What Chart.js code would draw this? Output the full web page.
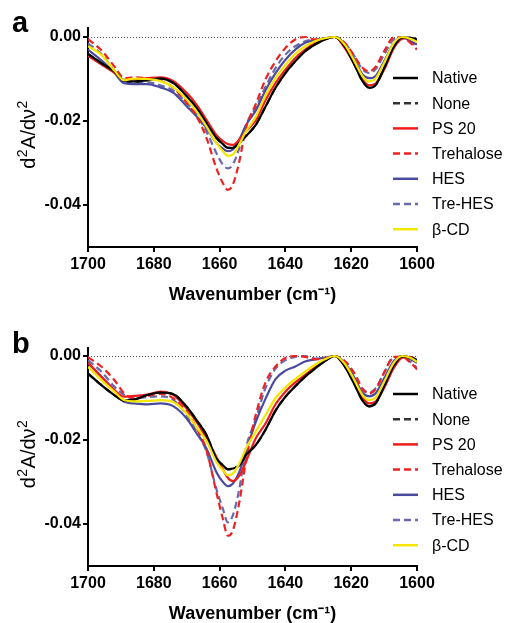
<!DOCTYPE html>
<html><head><meta charset="utf-8">
<script src="https://cdn.jsdelivr.net/npm/chart.js@4.4.0/dist/chart.umd.min.js"></script>
<style>
html,body{margin:0;padding:0;background:#fff;overflow:hidden;width:509px;height:623px;}
.panel{position:absolute;left:0;width:509px;}
#pa{top:0;height:312px;}
#pb{top:311px;height:320px;}
canvas{display:block;}
</style></head><body>
<div class="panel" id="pa"><canvas id="ca" width="509" height="312"></canvas></div>
<div class="panel" id="pb"><canvas id="cb" width="509" height="320"></canvas></div>
<script>
// ---------- data ----------
const wavenumbers = [1700,1696,1692,1689,1686,1682,1678,1674,1670,1667,1664,1661,1659,1657.5,1656,1654,1652,1649,1646,1643,1640,1637,1634,1631,1628,1625,1622,1619,1616.5,1614.5,1612.5,1610,1607,1604.5,1602,1600];
const seriesNames = ['Native','None','PS 20','Trehalose','HES','Tre-HES','\u03B2-CD'];
const xTicks = [1700,1680,1660,1640,1620,1600];
const yTicks = [-0.04,-0.02,0];
const yTitleParts = [['d',0],['2',1],['A/d\u03BD',0],['2',1]]; // [text, isSuperscript]

// panel a
const a_native = [-0.0040,-0.0062,-0.0082,-0.0104,-0.0106,-0.0103,-0.0099,-0.0110,-0.0141,-0.0169,-0.0205,-0.0240,-0.0255,-0.0264,-0.0264,-0.0252,-0.0236,-0.0209,-0.0165,-0.0121,-0.0086,-0.0058,-0.0034,-0.0018,-0.0006,0.0000,-0.0022,-0.0066,-0.0106,-0.0121,-0.0114,-0.0074,-0.0022,-0.0001,-0.0002,-0.0006];
const a_none = [-0.0040,-0.0062,-0.0082,-0.0104,-0.0106,-0.0103,-0.0099,-0.0110,-0.0141,-0.0169,-0.0205,-0.0240,-0.0255,-0.0264,-0.0264,-0.0252,-0.0236,-0.0209,-0.0165,-0.0121,-0.0086,-0.0058,-0.0034,-0.0018,-0.0006,0.0000,-0.0022,-0.0066,-0.0106,-0.0121,-0.0114,-0.0074,-0.0022,-0.0001,-0.0002,-0.0006];
const a_ps20 = [-0.0045,-0.0065,-0.0085,-0.0102,-0.0101,-0.0098,-0.0096,-0.0105,-0.0133,-0.0161,-0.0197,-0.0233,-0.0248,-0.0255,-0.0257,-0.0244,-0.0225,-0.0198,-0.0150,-0.0110,-0.0078,-0.0050,-0.0030,-0.0014,-0.0004,0.0000,-0.0026,-0.0066,-0.0102,-0.0115,-0.0110,-0.0078,-0.0026,-0.0004,-0.0002,-0.0010];
const a_trehalose = [-0.0005,-0.0031,-0.0070,-0.0098,-0.0096,-0.0098,-0.0104,-0.0121,-0.0157,-0.0189,-0.0240,-0.0312,-0.0348,-0.0364,-0.0352,-0.0296,-0.0217,-0.0160,-0.0100,-0.0058,-0.0026,-0.0006,0.0000,-0.0006,-0.0004,0.0000,-0.0014,-0.0046,-0.0074,-0.0082,-0.0070,-0.0034,-0.0001,-0.0002,-0.0014,-0.0030];
const a_hes = [-0.0030,-0.0055,-0.0085,-0.0110,-0.0112,-0.0112,-0.0120,-0.0133,-0.0165,-0.0189,-0.0217,-0.0252,-0.0266,-0.0272,-0.0268,-0.0244,-0.0210,-0.0175,-0.0126,-0.0086,-0.0054,-0.0030,-0.0014,-0.0008,-0.0003,0.0000,-0.0018,-0.0055,-0.0090,-0.0098,-0.0092,-0.0058,-0.0014,0.0000,-0.0010,-0.0018];
const a_trehes = [-0.0015,-0.0040,-0.0080,-0.0108,-0.0108,-0.0108,-0.0115,-0.0128,-0.0157,-0.0185,-0.0225,-0.0276,-0.0304,-0.0313,-0.0304,-0.0264,-0.0210,-0.0168,-0.0118,-0.0074,-0.0042,-0.0022,-0.0010,-0.0006,-0.0003,0.0000,-0.0014,-0.0046,-0.0078,-0.0086,-0.0076,-0.0042,-0.0005,-0.0001,-0.0012,-0.0022];
const a_bcd = [-0.0022,-0.0042,-0.0080,-0.0103,-0.0099,-0.0100,-0.0105,-0.0120,-0.0149,-0.0177,-0.0213,-0.0252,-0.0272,-0.0283,-0.0280,-0.0255,-0.0225,-0.0190,-0.0138,-0.0098,-0.0066,-0.0040,-0.0022,-0.0010,-0.0003,0.0000,-0.0018,-0.0058,-0.0094,-0.0106,-0.0098,-0.0062,-0.0014,0.0000,-0.0004,-0.0012];

// panel b
const b_native = [-0.0042,-0.0069,-0.0093,-0.0106,-0.0104,-0.0093,-0.0087,-0.0091,-0.0121,-0.0153,-0.0188,-0.0244,-0.0260,-0.0270,-0.0268,-0.0260,-0.0236,-0.0212,-0.0175,-0.0130,-0.0097,-0.0072,-0.0049,-0.0030,-0.0012,0.0000,-0.0024,-0.0068,-0.0107,-0.0120,-0.0112,-0.0072,-0.0022,-0.0001,-0.0004,-0.0010];
const b_none = [-0.0042,-0.0069,-0.0093,-0.0106,-0.0104,-0.0093,-0.0087,-0.0091,-0.0121,-0.0153,-0.0188,-0.0244,-0.0260,-0.0270,-0.0268,-0.0260,-0.0236,-0.0212,-0.0175,-0.0130,-0.0097,-0.0072,-0.0049,-0.0030,-0.0012,0.0000,-0.0024,-0.0068,-0.0107,-0.0120,-0.0112,-0.0072,-0.0022,-0.0001,-0.0004,-0.0010];
const b_ps20 = [-0.0016,-0.0049,-0.0081,-0.0097,-0.0095,-0.0092,-0.0085,-0.0093,-0.0125,-0.0157,-0.0196,-0.0240,-0.0270,-0.0290,-0.0298,-0.0285,-0.0252,-0.0196,-0.0160,-0.0115,-0.0085,-0.0063,-0.0045,-0.0027,-0.0012,0.0000,-0.0024,-0.0064,-0.0100,-0.0113,-0.0108,-0.0076,-0.0028,-0.0004,-0.0002,-0.0010];
const b_trehalose = [-0.0003,-0.0025,-0.0057,-0.0089,-0.0101,-0.0095,-0.0090,-0.0101,-0.0133,-0.0172,-0.0224,-0.0324,-0.0388,-0.0428,-0.0416,-0.0348,-0.0250,-0.0140,-0.0062,-0.0025,-0.0005,0.0000,-0.0002,-0.0008,-0.0006,0.0000,-0.0012,-0.0042,-0.0080,-0.0089,-0.0078,-0.0040,-0.0002,-0.0002,-0.0016,-0.0032];
const b_hes = [-0.0017,-0.0049,-0.0081,-0.0109,-0.0113,-0.0115,-0.0113,-0.0120,-0.0149,-0.0184,-0.0220,-0.0276,-0.0300,-0.0310,-0.0304,-0.0276,-0.0228,-0.0157,-0.0101,-0.0055,-0.0035,-0.0025,-0.0013,-0.0008,-0.0004,0.0000,-0.0016,-0.0052,-0.0088,-0.0096,-0.0088,-0.0054,-0.0012,0.0000,-0.0008,-0.0016];
const b_trehes = [-0.0010,-0.0037,-0.0073,-0.0093,-0.0101,-0.0098,-0.0096,-0.0105,-0.0141,-0.0180,-0.0228,-0.0316,-0.0364,-0.0396,-0.0380,-0.0316,-0.0220,-0.0150,-0.0075,-0.0030,-0.0010,-0.0002,0.0000,-0.0006,-0.0006,0.0000,-0.0012,-0.0042,-0.0078,-0.0087,-0.0076,-0.0040,-0.0003,-0.0002,-0.0014,-0.0028];
const b_bcd = [-0.0026,-0.0057,-0.0085,-0.0105,-0.0108,-0.0107,-0.0105,-0.0110,-0.0137,-0.0170,-0.0202,-0.0252,-0.0272,-0.0284,-0.0280,-0.0256,-0.0220,-0.0180,-0.0140,-0.0100,-0.0075,-0.0055,-0.0037,-0.0021,-0.0008,0.0000,-0.0018,-0.0058,-0.0094,-0.0105,-0.0098,-0.0062,-0.0016,0.0000,-0.0004,-0.0014];

// ---------- styles ----------
const FONT = '"Liberation Sans", Arial, Helvetica, sans-serif';
const styles = [
  {color:'#000000', dash:[], order:1},
  {color:'#333333', dash:[7,4], order:2},
  {color:'#ee1c1c', dash:[], order:3},
  {color:'#ee2020', dash:[7,4], order:4},
  {color:'#4a4a9e', dash:[], order:5},
  {color:'#6a6aaa', dash:[7,4], order:6},
  {color:'#f5e600', dash:[], order:0}
];

const zeroLinePlugin = {
  id:'zeroLine',
  beforeDatasetsDraw(chart){
    const {ctx, chartArea, scales} = chart;
    const y = Math.round(scales.y.getPixelForValue(0)) + 0.5;
    ctx.save();
    ctx.strokeStyle = '#555';
    ctx.lineWidth = 1;
    ctx.setLineDash([1,2]);
    ctx.beginPath();
    ctx.moveTo(chartArea.left, y);
    ctx.lineTo(chartArea.right, y);
    ctx.stroke();
    ctx.restore();
  }
};

const legendPlugin = {
  id:'boxLegend',
  afterDraw(chart, args, o){
    const ctx = chart.ctx;
    ctx.save();
    chart.data.datasets.forEach((ds,i)=>{
      const y = o.y0 + i*o.dy;
      ctx.strokeStyle = ds.borderColor;
      ctx.lineWidth = 2.5;
      ctx.setLineDash(ds.borderDash || []);
      ctx.beginPath();
      ctx.moveTo(o.x0, y); ctx.lineTo(o.x1, y);
      ctx.stroke();
      ctx.setLineDash([]);
      ctx.fillStyle = '#000';
      ctx.font = '16px ' + FONT;
      ctx.textBaseline = 'middle';
      ctx.textAlign = 'left';
      ctx.fillText(ds.label, o.xt, y + 1);
    });
    // panel letter
    ctx.font = 'bold 29px ' + FONT;
    ctx.textBaseline = 'alphabetic';
    ctx.fillText(o.letter, o.lx, o.ly);

    // y-axis title with real superscripts
    const ca = chart.chartArea;
    const cy = (ca.top + ca.bottom) / 2 - 3;
    const big = '20px ' + FONT, small = '14px ' + FONT;
    let total = 0;
    yTitleParts.forEach(([t, sup]) => { ctx.font = sup ? small : big; total += ctx.measureText(t).width + (sup ? 1 : 0); });
    ctx.translate(o.titleX, cy);
    ctx.rotate(-Math.PI/2);
    ctx.textAlign = 'left';
    ctx.textBaseline = 'alphabetic';
    let u = -total/2;
    yTitleParts.forEach(([t, sup]) => {
      ctx.font = sup ? small : big;
      ctx.fillText(t, u + (sup ? 0.5 : 0), sup ? -8 : 0);
      u += ctx.measureText(t).width + (sup ? 1 : 0);
    });
    ctx.restore();
  }
};

function makeChart(canvasId, seriesList, yMax, padTop, legendY0, letter, letterY){
  const datasets = seriesList.map((arr,i)=>({
    label: seriesNames[i],
    data: wavenumbers.map((w,k)=>({x:w, y:arr[k]})),
    borderColor: styles[i].color,
    borderDash: styles[i].dash,
    borderWidth: 2.2,
    pointRadius: 0,
    fill: false,
    order: styles[i].order,
    cubicInterpolationMode: 'monotone'
  }));
  const axisGrid = {drawOnChartArea:false, drawTicks:true, tickLength:5, lineWidth:2, tickWidth:2, color:'#000', tickColor:'#000'};
  const axisBorder = {display:true, color:'#000', width:2};
  return new Chart(document.getElementById(canvasId), {
    type:'line',
    data:{datasets},
    plugins:[zeroLinePlugin, legendPlugin],
    options:{
      responsive:false,
      animation:false,
      layout:{padding:{top:padTop, right:92, bottom:5, left:0}},
      plugins:{
        legend:{display:false},
        tooltip:{enabled:false},
        boxLegend:{x0:393, x1:418, xt:432, y0:legendY0, dy:25.2, letter, lx:12, ly:letterY, titleX:35}
      },
      scales:{
        x:{
          type:'linear', reverse:true, min:1600, max:1700,
          afterBuildTicks: s => { s.ticks = xTicks.map(v=>({value:v})); },
          afterFit: s => { s.height = 60; },
          ticks:{color:'#000', font:{family:FONT, size:16, weight:'bold'}, padding:3, maxRotation:0, autoSkip:false,
                 callback: v => String(v)},
          grid: axisGrid, border: axisBorder,
          title:{display:true, text:'Wavenumber (cm\u207B\u00B9)', color:'#000',
                 font:{family:FONT, size:18, weight:'bold'}, padding:{top:0, bottom:1}}
        },
        y:{
          type:'linear', min:-0.05, max:yMax,
          afterBuildTicks: s => { s.ticks = yTicks.map(v=>({value:v})); },
          afterFit: s => { s.width = 88; },
          ticks:{color:'#000', font:{family:FONT, size:16, weight:'bold'}, padding:2,
                 callback: v => (Math.abs(v) < 1e-9 ? 0 : v).toFixed(2)},
          grid: axisGrid, border: axisBorder,
          title:{display:false}
        }
      }
    }
  });
}

makeChart('ca', [a_native,a_none,a_ps20,a_trehalose,a_hes,a_trehes,a_bcd], 0.00214, 28, 78, 'a', 32);
makeChart('cb', [b_native,b_none,b_ps20,b_trehalose,b_hes,b_trehes,b_bcd], 0.0019, 37, 83, 'b', 42);
</script>
</body></html>
